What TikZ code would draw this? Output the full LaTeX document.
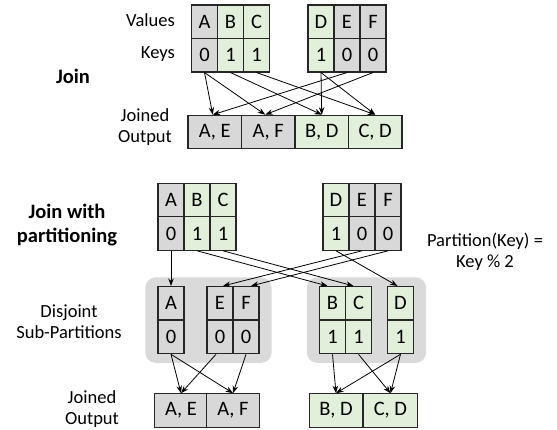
\documentclass[tikz,border=0pt]{standalone}
\usepackage{fontspec}
\setmainfont{Carlito}
\usetikzlibrary{arrows.meta,fit,backgrounds}

\definecolor{cellgray}{RGB}{216,216,216}
\definecolor{cellgreen}{RGB}{226,239,218}
\definecolor{partgray}{RGB}{218,218,218}

\tikzset{
  cell/.style={draw=black!85, line width=1.1pt, minimum width=26pt, minimum height=33.5pt,
    inner sep=0pt, font=\fontsize{20.5}{22}\selectfont},
  outcell/.style={cell, minimum width=53.5pt},
  graycell/.style={fill=cellgray},
  greencell/.style={fill=cellgreen},
  partbox/.style={fill=partgray, rounded corners=10pt, inner xsep=12pt, inner ysep=8.5pt},
  lbl/.style={inner sep=0pt, align=center, font=\fontsize{18.5}{21.5}\selectfont},
  headlbl/.style={lbl, font=\fontsize{20.5}{24}\selectfont\bfseries}
}

\begin{document}
\begin{tikzpicture}[x=1pt,y=-1pt,>={Stealth[length=7.5pt,width=5.5pt]}]
  \useasboundingbox (0,0) rectangle (557,430);

  % labels
  \node[lbl, anchor=east] (valueslbl) at (175,20.5) {Values};
  \node[lbl, anchor=east] (keyslbl)   at (175,54) {Keys};
  \node[headlbl] (joinlbl) at (73,76) {Join};
  \node[lbl] (joinedlbl) at (145,127) {Joined\\Output};
  \node[headlbl] (partjoinlbl) at (67,225) {Join with\\partitioning};
  \node[lbl] (disjointlbl) at (69,321.5) {Disjoint\\Sub-Partitions};
  \node[lbl] (joined2lbl) at (92,409) {Joined\\Output};
  \node[lbl] (rulelbl) at (485,251.5) {Partition(Key) =\\Key \% 2};

  % join without partitioning
  \begin{scope}[every node/.style={cell}]
    \node[graycell]  (tA)  at (204.5,21.75) {A};
    \node[greencell] (tB)  at (230.5,21.75) {B};
    \node[greencell] (tC)  at (256.5,21.75) {C};
    \node[graycell]  (tA0) at (204.5,55.25) {0};
    \node[greencell] (tB1) at (230.5,55.25) {1};
    \node[greencell] (tC1) at (256.5,55.25) {1};
    \node[greencell] (tD)  at (321,21.75) {D};
    \node[graycell]  (tE)  at (347,21.75) {E};
    \node[graycell]  (tF)  at (373,21.75) {F};
    \node[greencell] (tD1) at (321,55.25) {1};
    \node[graycell]  (tE0) at (347,55.25) {0};
    \node[graycell]  (tF0) at (373,55.25) {0};
  \end{scope}

  \begin{scope}[every node/.style={outcell}]
    \node[graycell]  (oAE) at (214.75,132) {A, E};
    \node[graycell]  (oAF) at (268.25,132) {A, F};
    \node[greencell] (oBD) at (321.75,132) {B, D};
    \node[greencell] (oCD) at (375.25,132) {C, D};
  \end{scope}

  \begin{scope}[every edge/.style={draw, ->, line width=0.8pt}]
    \path (tA0.south) edge ([xshift=-2pt]oAE.north);
    \path (tA0.south) edge ([xshift=-3pt]oAF.north);
    \path (tB1.south) edge (oBD.north);
    \path (tC1.south) edge (oCD.north);
    \path (tD1.south) edge (oBD.north);
    \path (tD1.south) edge (oCD.north);
    \path (tE0.south) edge ([xshift=-2pt]oAE.north);
    \path (tF0.south) edge ([xshift=-3pt]oAF.north);
  \end{scope}

  % join with partitioning
  \begin{scope}[every node/.style={cell}]
    \node[graycell]  (bA)  at (171,200.25) {A};
    \node[greencell] (bB)  at (197,200.25) {B};
    \node[greencell] (bC)  at (223,200.25) {C};
    \node[graycell]  (bA0) at (171,233.5) {0};
    \node[greencell] (bB1) at (197,233.5) {1};
    \node[greencell] (bC1) at (223,233.5) {1};
    \node[greencell] (bD)  at (336,200.25) {D};
    \node[graycell]  (bE)  at (362,200.25) {E};
    \node[graycell]  (bF)  at (388,200.25) {F};
    \node[greencell] (bD1) at (336,233.5) {1};
    \node[graycell]  (bE0) at (362,233.5) {0};
    \node[graycell]  (bF0) at (388,233.5) {0};

    % sub-partitions
    \node[graycell]  (pA)  at (171,303.25) {A};
    \node[graycell]  (pA0) at (171,337) {0};
    \node[graycell]  (pE)  at (220,303.25) {E};
    \node[graycell]  (pF)  at (246,303.25) {F};
    \node[graycell]  (pE0) at (220,337) {0};
    \node[graycell]  (pF0) at (246,337) {0};
    \node[greencell] (pB)  at (332.5,303.25) {B};
    \node[greencell] (pC)  at (358.5,303.25) {C};
    \node[greencell] (pB1) at (332.5,337) {1};
    \node[greencell] (pC1) at (358.5,337) {1};
    \node[greencell] (pD)  at (400.5,303.25) {D};
    \node[greencell] (pD1) at (400.5,337) {1};
  \end{scope}

  \begin{scope}[on background layer]
    \node[partbox, fit=(pA)(pF0)] (leftpart) {};
    \node[partbox, fit=(pB)(pD1)] (rightpart) {};
  \end{scope}

  \begin{scope}[every node/.style={outcell}]
    \node[graycell]  (qAE) at (181,410.5) {A, E};
    \node[graycell]  (qAF) at (233,410.5) {A, F};
    \node[greencell] (qBD) at (336,410.5) {B, D};
    \node[greencell] (qCD) at (390.5,410.5) {C, D};
  \end{scope}

  \begin{scope}[every edge/.style={draw, ->, line width=0.8pt}]
    \path (bA0.south) edge (pA.north);
    \path (bB1.south) edge ([xshift=-5pt]pB.north);
    \path (bC1.south) edge ([xshift=-5pt]pC.north);
    \path (bD1.south) edge ([xshift=-3pt]pD.north);
    \path (bE0.south) edge ([xshift=3pt]pE.north);
    \path (bF0.south) edge ([xshift=5pt]pF.north);

    \path (pA0.south) edge (qAE.north);
    \path (pA0.south) edge (qAF.north);
    \path ([xshift=-4pt]pE0.south) edge (qAE.north);
    \path (pF0.south) edge (qAF.north);
    \path (pB1.south) edge (qBD.north);
    \path (pC1.south) edge (qCD.north);
    \path (pD1.south) edge (qBD.north);
    \path (pD1.south) edge (qCD.north);
  \end{scope}

\end{tikzpicture}
\end{document}
